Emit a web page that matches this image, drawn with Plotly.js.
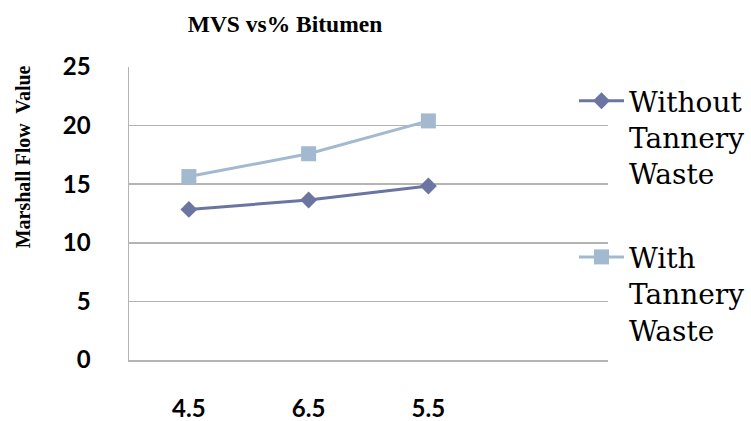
<!DOCTYPE html>
<html>
<head>
<meta charset="utf-8">
<script src="https://cdn.plot.ly/plotly-3.0.1.min.js"></script>
<style>html,body{margin:0;padding:0;background:#fff;}#chart{width:751px;height:421px;}</style>
</head>
<body>
<div id="chart"></div>
<script>
const categories = ['4.5', '6.5', '5.5'];
const withoutTannery = [12.85, 13.65, 14.85];
const withTannery = [15.65, 17.6, 20.4];
const seriesNames = ['Without<br>Tannery<br>Waste', 'With<br>Tannery<br>Waste'];
const yTicks = [0, 5, 10, 15, 20, 25];

const serif = '"Liberation Serif", "Times New Roman", Times, serif';
const wideSerif = '"DejaVu Serif", "Liberation Serif", serif';
const sans = 'Lato, "Open Sans", sans-serif';

const traces = [
  {
    x: categories, y: withoutTannery, name: seriesNames[0], type: 'scatter', mode: 'lines+markers',
    legendgroup: 'a',
    line: {color: '#6B75A2', width: 3},
    marker: {symbol: 'diamond', size: 13, color: '#6B75A2'}
  },
  {
    x: categories, y: withTannery, name: seriesNames[1], type: 'scatter', mode: 'lines+markers',
    legendgroup: 'b',
    line: {color: '#A2B9D0', width: 3},
    marker: {symbol: 'square', size: 15, color: '#A2B9D0'}
  }
];

const layout = {
  width: 751, height: 421,
  paper_bgcolor: '#ffffff', plot_bgcolor: '#ffffff',
  font: {family: serif, color: '#000'},
  margin: {l: 128.5, r: 143, t: 67, b: 60.5, autoexpand: false},
  title: {
    text: '<b>MVS vs% Bitumen</b>',
    font: {family: serif, size: 23.5, color: '#000'},
    x: 285 / 751, xanchor: 'center', xref: 'container',
    y: 1 - 24 / 421, yanchor: 'middle', yref: 'container'
  },
  xaxis: {
    type: 'category', categoryorder: 'array', categoryarray: categories,
    range: [-0.5, 3.5],
    showgrid: false, zeroline: false,
    showline: true, linecolor: '#b4b4b4', linewidth: 1.5,
    ticks: '', ticklabelstandoff: 27,
    tickfont: {family: sans, size: 24, color: '#000', weight: 700}
  },
  yaxis: {
    range: [0, 25], tickvals: yTicks, ticktext: yTicks.map(String),
    showgrid: true, gridcolor: '#b4b4b4', gridwidth: 1.5,
    zeroline: false,
    showline: true, linecolor: '#b4b4b4', linewidth: 1.5,
    ticks: '', ticklabelstandoff: 32,
    tickfont: {family: sans, size: 24, color: '#000', weight: 700}
  },
  showlegend: true,
  legend: {
    x: 574 / 751, xref: 'container', xanchor: 'left',
    y: 1 - 76 / 421, yref: 'container', yanchor: 'top',
    maxheight: 400, itemwidth: 45,
    bgcolor: 'rgba(0,0,0,0)', borderwidth: 0,
    traceorder: 'grouped', tracegroupgap: 44, valign: 'top',
    font: {family: wideSerif, size: 28, color: '#000'}
  },
  annotations: [{
    text: '<b>Marshall Flow  Value</b>',
    xref: 'paper', yref: 'paper',
    x: (22 - 128.5) / 479, y: (360.5 - 157) / 293.5,
    xanchor: 'center', yanchor: 'middle',
    textangle: -90, showarrow: false,
    font: {family: serif, size: 20, color: '#000'}
  }]
};

Plotly.newPlot('chart', traces, layout, {displayModeBar: false, staticPlot: true});
</script>
</body>
</html>
